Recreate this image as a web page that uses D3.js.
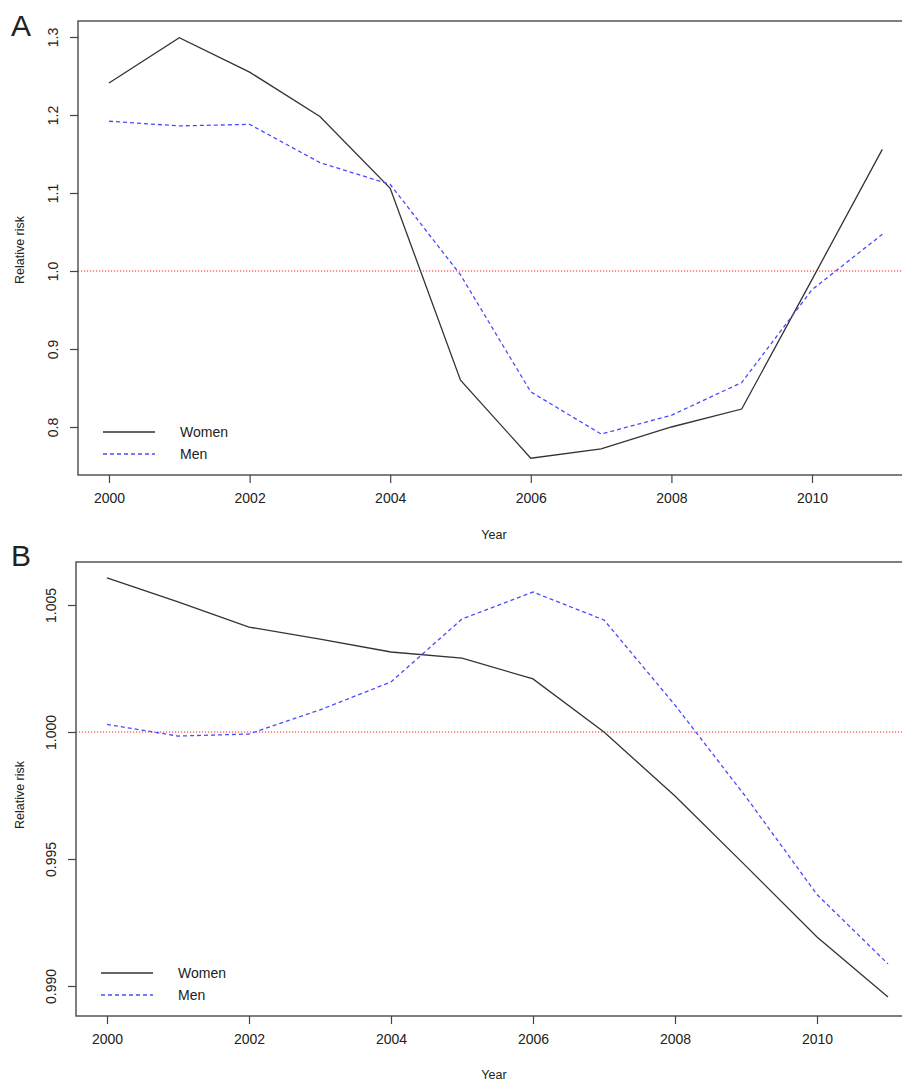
<!DOCTYPE html>
<html>
<head>
<meta charset="utf-8">
<script src="https://cdn.jsdelivr.net/npm/d3@7"></script>
<style>
  body { margin: 0; background: #fff; }
  text { font-family: "Liberation Sans", Arial, sans-serif; fill: #222; }
</style>
</head>
<body>
<div id="chart"></div>
<script>
// data
var years = [2000, 2001, 2002, 2003, 2004, 2005, 2006, 2007, 2008, 2009, 2010, 2011];

var womenA = [1.241, 1.299, 1.255, 1.198, 1.106, 0.860, 0.760, 0.772, 0.800, 0.823, 0.989, 1.156];
var menA   = [1.192, 1.186, 1.188, 1.139, 1.111, 0.995, 0.845, 0.791, 0.815, 0.857, 0.976, 1.047];

var womenB = [1.00607, 1.00512, 1.00413, 1.00366, 1.00315, 1.00291, 1.00209, 1.00000, 0.99748, 0.99472, 0.99193, 0.98957];
var menB   = [1.00030, 0.99984, 0.99992, 1.00087, 1.00197, 1.00445, 1.00551, 1.00441, 1.00106, 0.99744, 0.99360, 0.99087];

var xTicks = [2000, 2002, 2004, 2006, 2008, 2010];
var yTicksA = [0.8, 0.9, 1.0, 1.1, 1.2, 1.3];
var yTicksB = [0.990, 0.995, 1.000, 1.005];
var seriesNames = ["Women", "Men"];

var svgWidth = 902, svgHeight = 1082;

var svg = d3.select("#chart")
  .append("svg")
  .attr("width", svgWidth)
  .attr("height", svgHeight);

function drawPanel(opt) {
  var g = svg.append("g");

  var x = d3.scaleLinear()
    .domain([2000, 2010])
    .range([opt.x2000, opt.x2010]);

  var y = d3.scaleLinear()
    .domain([1.0, opt.refVal])
    .range([opt.y1, opt.yRef]);

  var left = opt.box[0], top = opt.box[1], right = opt.box[2], bottom = opt.box[3];

  // reference line at 1
  g.append("line")
    .attr("x1", left).attr("x2", right)
    .attr("y1", y(1)).attr("y2", y(1))
    .attr("stroke", "#ff2020")
    .attr("stroke-width", 1.2)
    .attr("stroke-dasharray", "1.2,1.8");

  var line = d3.line()
    .x(function (d, i) { return x(years[i]); })
    .y(function (d) { return y(d); });

  g.append("path")
    .datum(opt.women)
    .attr("d", line)
    .attr("fill", "none")
    .attr("stroke", "#333")
    .attr("stroke-width", 1.3);

  g.append("path")
    .datum(opt.men)
    .attr("d", line)
    .attr("fill", "none")
    .attr("stroke", "#4a4aff")
    .attr("stroke-width", 1.3)
    .attr("stroke-dasharray", "4,3");

  // box
  g.append("rect")
    .attr("x", left).attr("y", top)
    .attr("width", right - left).attr("height", bottom - top)
    .attr("fill", "none")
    .attr("stroke", "#555")
    .attr("stroke-width", 1.5);

  // x axis
  var bottomAxis = d3.axisBottom(x)
    .tickValues(xTicks)
    .tickFormat(d3.format("d"))
    .tickSize(8)
    .tickPadding(10);

  var xa = g.append("g")
    .attr("transform", `translate(0, ${bottom})`)
    .call(bottomAxis);
  xa.select(".domain").remove();
  xa.selectAll("line").attr("stroke", "#444").attr("stroke-width", 1.2);
  xa.selectAll("text")
    .style("font-family", "Liberation Sans, Arial, sans-serif")
    .style("font-size", "14px")
    .attr("fill", "#222");

  // y axis
  var leftAxis = d3.axisLeft(y)
    .tickValues(opt.yTicks)
    .tickFormat(d3.format(opt.fmt))
    .tickSize(8)
    .tickPadding(0);

  var ya = g.append("g")
    .attr("transform", `translate(${left}, 0)`)
    .call(leftAxis);
  ya.select(".domain").remove();
  ya.selectAll("line").attr("stroke", "#444").attr("stroke-width", 1.2);
  ya.selectAll("text")
    .attr("x", 0).attr("dy", null)
    .attr("transform", "translate(-20, 0) rotate(-90)")
    .attr("text-anchor", "middle")
    .style("font-family", "Liberation Sans, Arial, sans-serif")
    .style("font-size", "14px")
    .attr("fill", "#222");

  // axis labels
  g.append("text")
    .attr("transform", `translate(24, ${opt.yLabelY}) rotate(-90)`)
    .attr("text-anchor", "middle")
    .style("font-size", "12.5px")
    .text("Relative risk");

  g.append("text")
    .attr("x", 494)
    .attr("y", opt.xLabelY)
    .attr("text-anchor", "middle")
    .style("font-size", "12.5px")
    .text("Year");

  // panel letter
  g.append("text")
    .attr("x", 11)
    .attr("y", opt.letterY)
    .style("font-size", "30px")
    .attr("fill", "#000")
    .text(opt.letter);

  // legend
  var legend = g.append("g")
    .attr("transform", `translate(${opt.legend[0]}, ${opt.legend[1]})`);
  seriesNames.forEach(function (name, i) {
    legend.append("line")
      .attr("x1", 0).attr("x2", 52)
      .attr("y1", i * 22).attr("y2", i * 22)
      .attr("stroke", i === 0 ? "#333" : "#4a4aff")
      .attr("stroke-width", 1.3)
      .attr("stroke-dasharray", i === 0 ? null : "4,3");
    legend.append("text")
      .attr("x", 77)
      .attr("y", i * 22 + 5)
      .style("font-size", "14px")
      .text(name);
  });
}

drawPanel({
  letter: "A", letterY: 36,
  women: womenA, men: menA,
  x2000: 109, x2010: 812,
  y1: 271, refVal: 1.1, yRef: 193,
  box: [78, 21, 904, 475],
  yTicks: yTicksA, fmt: ".1f",
  yLabelY: 250, xLabelY: 539,
  legend: [103, 432]
});

drawPanel({
  letter: "B", letterY: 566,
  women: womenB, men: menB,
  x2000: 107, x2010: 817,
  y1: 732, refVal: 0.990, yRef: 986,
  box: [76, 562, 904, 1016],
  yTicks: yTicksB, fmt: ".3f",
  yLabelY: 795, xLabelY: 1079,
  legend: [101, 973]
});
</script>
</body>
</html>
